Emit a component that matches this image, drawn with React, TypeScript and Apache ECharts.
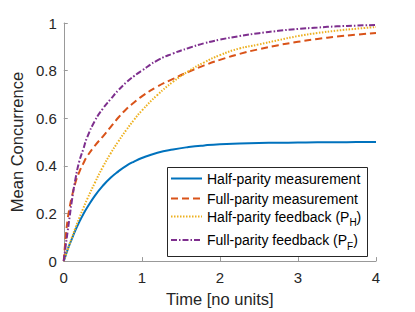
import React, { useEffect, useRef } from "react";
import * as echarts from "echarts";

const timePoints = [0, 0.025, 0.05, 0.075, 0.1, 0.15, 0.2, 0.25, 0.3, 0.4, 0.5, 0.6, 0.7, 0.8, 0.9, 1.0, 1.2, 1.4, 1.6, 1.8, 2.0, 2.25, 2.5, 2.75, 3.0, 3.25, 3.5, 3.75, 4.0];
const halfParityMeasurement = [0, 0.024, 0.048, 0.07, 0.09, 0.13, 0.165, 0.197, 0.225, 0.275, 0.316, 0.35, 0.377, 0.4, 0.418, 0.433, 0.455, 0.469, 0.479, 0.486, 0.491, 0.494, 0.496, 0.497, 0.498, 0.499, 0.499, 0.5, 0.5];
const fullParityMeasurement = [0, 0.1, 0.175, 0.225, 0.265, 0.33, 0.375, 0.41, 0.44, 0.485, 0.523, 0.563, 0.603, 0.638, 0.666, 0.692, 0.733, 0.765, 0.795, 0.822, 0.845, 0.87, 0.89, 0.907, 0.921, 0.933, 0.943, 0.951, 0.958];
const halfParityFeedback = [0, 0.025, 0.049, 0.072, 0.095, 0.14, 0.182, 0.222, 0.26, 0.33, 0.395, 0.452, 0.503, 0.55, 0.593, 0.632, 0.698, 0.753, 0.798, 0.835, 0.865, 0.893, 0.91, 0.928, 0.945, 0.958, 0.968, 0.976, 0.983];
const fullParityFeedback = [0, 0.065, 0.125, 0.185, 0.245, 0.345, 0.42, 0.47, 0.52, 0.59, 0.64, 0.68, 0.718, 0.75, 0.777, 0.8, 0.843, 0.872, 0.895, 0.915, 0.93, 0.945, 0.957, 0.967, 0.975, 0.981, 0.986, 0.989, 0.992];

const seriesNames = [
  "Half-parity measurement",
  "Full-parity measurement",
  "Half-parity feedback (P_H)",
  "Full-parity feedback (P_F)",
];
const seriesColors = ["#0072BD", "#D95319", "#EDB120", "#7E2F8E"];
const seriesDash: any[] = ["solid", [7, 4], [1.5, 1.5], [6, 2, 1.5, 2]];
const seriesValues = [halfParityMeasurement, fullParityMeasurement, halfParityFeedback, fullParityFeedback];

const xTicks = { min: 0, max: 4, interval: 1 };
const yTicks = { min: 0, max: 1, interval: 0.2 };

const FONT = "'Liberation Sans', Arial, Helvetica, sans-serif";
const AXIS_GRAY = "#999999";
const TEXT_DARK = "#262626";

const legendTops = [170.5, 190.5, 205.5, 229];

export default function App() {
  const ref = useRef<HTMLDivElement>(null);
  useEffect(() => {
    if (!ref.current) return;
    const chart = echarts.init(ref.current, undefined, { renderer: "svg" });
    const axisCommon = {
      axisLine: { show: true, lineStyle: { color: AXIS_GRAY, width: 1 } },
      axisTick: { show: true, inside: true, length: 4, lineStyle: { color: AXIS_GRAY, width: 1 } },
      splitLine: { show: false },
      nameLocation: "middle" as const,
      nameTextStyle: { fontSize: 16.5, color: TEXT_DARK, fontFamily: FONT },
    };
    const option: any = {
      animation: false,
      grid: { left: 54, right: 39, top: 23, bottom: 46 },
      xAxis: {
        type: "value",
        ...xTicks,
        ...axisCommon,
        name: "Time [no units]",
        nameGap: 25,
        axisLabel: { fontSize: 15, color: TEXT_DARK, margin: 9, fontFamily: FONT },
      },
      yAxis: {
        type: "value",
        ...yTicks,
        ...axisCommon,
        name: "Mean Concurrence",
        nameGap: 30,
        axisLabel: { fontSize: 15, color: TEXT_DARK, margin: 7, fontFamily: FONT },
      },
      graphic: [
        {
          type: "rect",
          z: 3,
          shape: { x: 167.5, y: 167.5, width: 200, height: 89 },
          style: { fill: "#ffffff", stroke: TEXT_DARK, lineWidth: 1 },
        },
      ],
      legend: seriesNames.map((name, i) => ({
        data: [name],
        left: 170,
        top: legendTops[i],
        padding: 0,
        itemWidth: 31,
        itemHeight: 14,
        selectedMode: false,
        z: 5,
        itemStyle: { opacity: 0 },
        formatter: (n: string) => n.replace(/P_(\w)\)/, "P{sub|$1})"),
        textStyle: {
          fontSize: 14,
          lineHeight: 16,
          color: "#000000",
          fontFamily: FONT,
          rich: {
            sub: { fontSize: 10, lineHeight: 10, padding: [12, 0, 0, 0], fontFamily: FONT, color: "#000000" },
          },
        },
      })),
      series: seriesNames.map((name, i) => ({
        name,
        type: "line",
        data: timePoints.map((t, j) => [t, seriesValues[i][j]]),
        showSymbol: false,
        symbol: "none",
        smooth: 0.5,
        color: seriesColors[i],
        lineStyle: { color: seriesColors[i], width: 2, type: seriesDash[i] },
        z: 2 + i * 0.01,
      })),
    };
    chart.setOption(option);
    return () => chart.dispose();
  }, []);
  return (
    <div
      ref={ref}
      style={{ position: "absolute", left: 0, top: 0, width: 415, height: 312, background: "#fff" }}
    />
  );
}
